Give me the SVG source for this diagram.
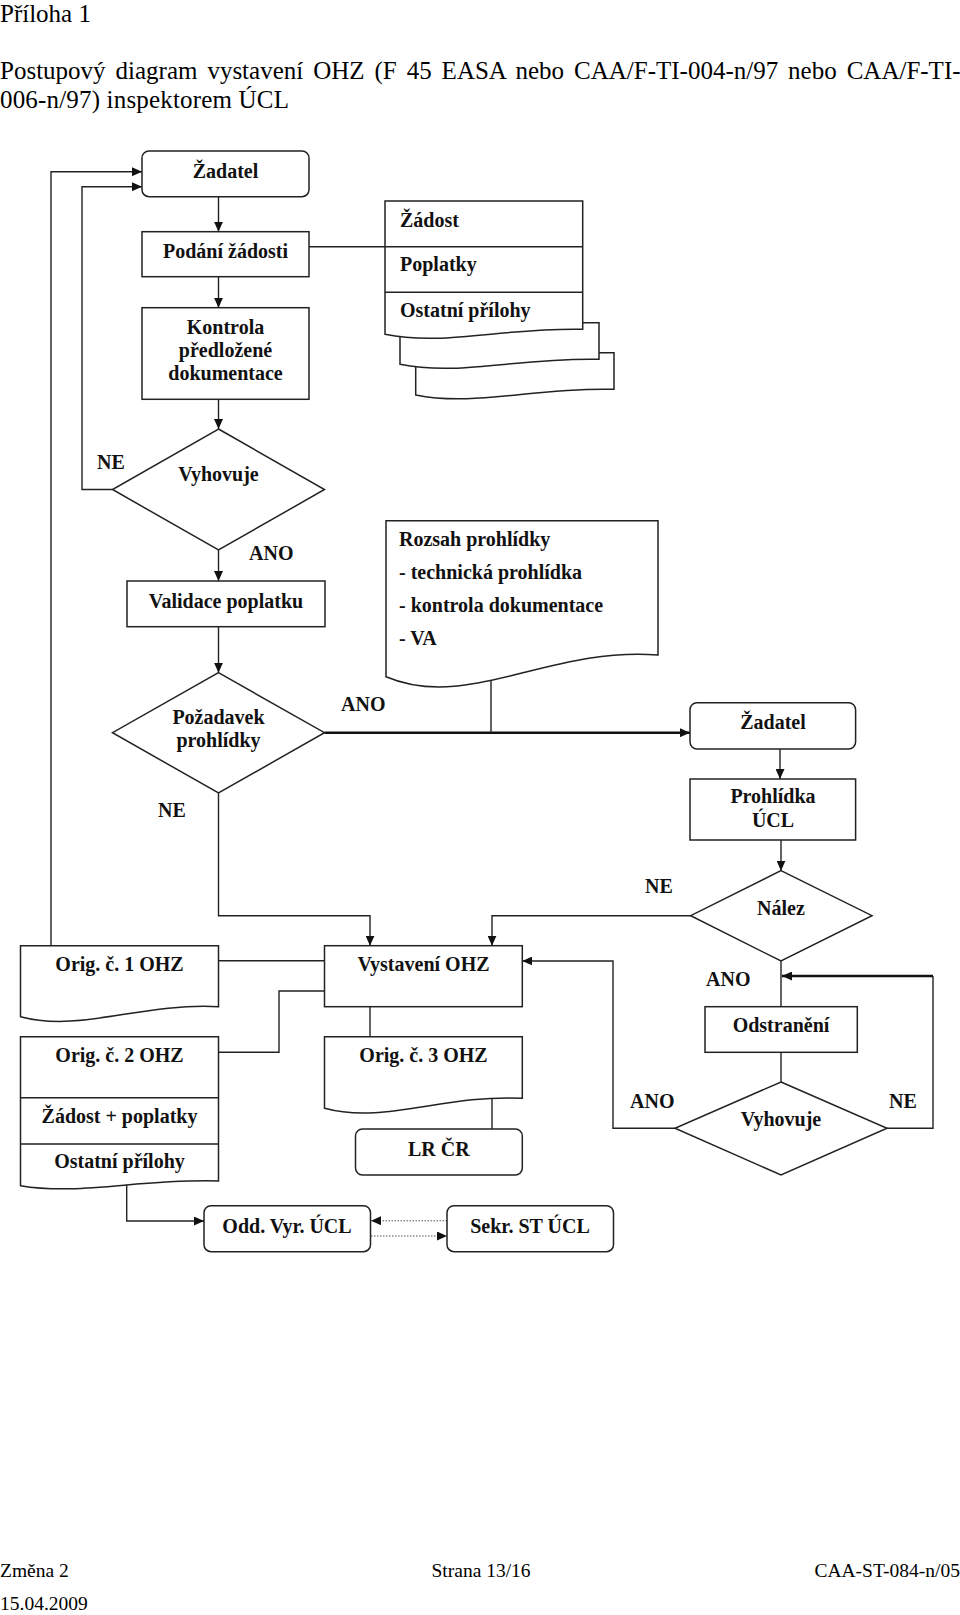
<svg xmlns="http://www.w3.org/2000/svg" width="960" height="1615" viewBox="0 0 960 1615">
<defs>
<style>
.hdr{font-family:"Liberation Serif","Times New Roman",serif;font-size:25px;fill:#000}
.ftr{font-family:"Liberation Serif","Times New Roman",serif;font-size:19.5px;fill:#000}
.t{font-family:"Liberation Serif","Times New Roman",serif;font-size:20px;font-weight:bold;fill:#111;text-anchor:middle}
.ts{font-family:"Liberation Serif","Times New Roman",serif;font-size:20px;font-weight:bold;fill:#111;text-anchor:start}
.box{fill:#fff;stroke:#222;stroke-width:1.5}
.ln{fill:none;stroke:#222;stroke-width:1.4}
.thick{fill:none;stroke:#111;stroke-width:2.6}
.dot{fill:none;stroke:#555;stroke-width:1.1;stroke-dasharray:1.5 1.5}
</style>
<marker id="arr" markerUnits="userSpaceOnUse" markerWidth="10" markerHeight="9" refX="10" refY="4.5" orient="auto">
<path d="M0,0 L10,4.5 L0,9 Z" fill="#111"/>
</marker>
</defs>
<rect width="960" height="1615" fill="#fff"/>

<g id="header">
<text class="hdr" x="0" y="21.5">Příloha 1</text>
<text class="hdr" x="0" y="79" word-spacing="3.7">Postupový diagram vystavení OHZ (F 45 EASA nebo CAA/F-TI-004-n/97 nebo CAA/F-TI-</text>
<text class="hdr" x="0" y="108" textLength="289" lengthAdjust="spacing">006-n/97) inspektorem ÚCL</text>
</g>

<g id="connectors">
<path class="ln" d="M51 945.7 V171.7 H142" marker-end="url(#arr)"/>
<path class="ln" d="M112.5 489.5 H82 V186.7 H142" marker-end="url(#arr)"/>
<path class="ln" d="M218.5 196.7 V231.7" marker-end="url(#arr)"/>
<path class="ln" d="M218.5 276.7 V307.7" marker-end="url(#arr)"/>
<path class="ln" d="M218.5 399.3 V429" marker-end="url(#arr)"/>
<path class="ln" d="M309 246.7 H386"/>
<path class="ln" d="M218.5 550 V581" marker-end="url(#arr)"/>
<path class="ln" d="M218.5 626.7 V672.7" marker-end="url(#arr)"/>
<path class="thick" d="M324.5 732.7 H690" marker-end="url(#arr)"/>
<path class="ln" d="M491 678 V732.7"/>
<path class="ln" d="M218.5 793 V915.7 H370 V945.7" marker-end="url(#arr)"/>
<path class="ln" d="M780 749 V779" marker-end="url(#arr)"/>
<path class="ln" d="M781 840 V870.7" marker-end="url(#arr)"/>
<path class="ln" d="M690.7 915.7 H492 V945.7" marker-end="url(#arr)"/>
<path class="ln" d="M218.5 960.7 H324.5"/>
<path class="ln" d="M218.5 1052.3 H279 V991 H324.5"/>
<path class="ln" d="M370 1006.7 V1036.7"/>
<path class="ln" d="M492 1097 V1129"/>
<path class="ln" d="M126.7 1183 V1221 H204" marker-end="url(#arr)"/>
<path class="dot" d="M447 1220.7 H371" marker-end="url(#arr)"/>
<path class="dot" d="M371 1236 H447" marker-end="url(#arr)"/>
<path class="ln" d="M781 961 V1006.7"/>
<path class="ln" d="M781 1052.3 V1082"/>
<path class="ln" d="M887 1128.3 H933 V976"/>
<path class="thick" d="M933 976 H782" marker-end="url(#arr)"/>
<path class="ln" d="M675 1128.3 H613 V961 H522.3" marker-end="url(#arr)"/>
</g>

<g id="zadatel1">
<rect class="box" x="142" y="151" width="167" height="45.7" rx="7"/>
<text class="t" x="225.5" y="178">Žadatel</text>
</g>
<g id="podani">
<rect class="box" x="142" y="231.7" width="167" height="45"/>
<text class="t" x="225.5" y="258">Podání žádosti</text>
</g>
<g id="kontrola">
<rect class="box" x="142" y="307.7" width="167" height="91.6"/>
<text class="t" x="225.5" y="334">Kontrola</text>
<text class="t" x="225.5" y="357">předložené</text>
<text class="t" x="225.5" y="380">dokumentace</text>
</g>
<g id="stack">
<path class="box" d="M415.7 352.7 H614 V389.3 C534.7 387, 475.2 407, 415.7 395 Z"/>
<path class="box" d="M400 322.7 H599 V359.3 C519.4 357.3, 459.7 376.3, 400 364.3 Z"/>
<path class="box" d="M385 201 H582.7 V329.3 C503.6 327.3, 444.3 346.3, 385 334.3 Z"/>
<path class="ln" d="M385 246.7 H582.7 M385 292.3 H582.7"/>
<text class="ts" x="400" y="227">Žádost</text>
<text class="ts" x="400" y="271">Poplatky</text>
<text class="ts" x="400" y="317">Ostatní přílohy</text>
</g>
<g id="vyhovuje1">
<polygon class="box" points="218.5,429 324.5,489.5 218.5,550 112.5,489.5"/>
<text class="t" x="218.5" y="481">Vyhovuje</text>
</g>
<g id="validace">
<rect class="box" x="127" y="581" width="198" height="45.7"/>
<text class="t" x="226" y="608">Validace poplatku</text>
</g>
<g id="rozsah">
<path class="box" d="M386 520.7 H658 V655 C549.2 646.3, 467.6 711.4, 386 676.7 Z"/>
<text class="ts" x="399" y="546">Rozsah prohlídky</text>
<text class="ts" x="399" y="579">- technická prohlídka</text>
<text class="ts" x="399" y="612">- kontrola dokumentace</text>
<text class="ts" x="399" y="645">- VA</text>
</g>
<g id="pozadavek">
<polygon class="box" points="218.5,672.7 324.5,732.7 218.5,793 112.5,732.7"/>
<text class="t" x="218.5" y="724">Požadavek</text>
<text class="t" x="218.5" y="747">prohlídky</text>
</g>
<g id="zadatel2">
<rect class="box" x="690" y="702.7" width="165.6" height="46.3" rx="7"/>
<text class="t" x="773" y="729">Žadatel</text>
</g>
<g id="prohlidka">
<rect class="box" x="690" y="779" width="165.6" height="61"/>
<text class="t" x="773" y="803">Prohlídka</text>
<text class="t" x="773" y="827">ÚCL</text>
</g>
<g id="nalez">
<polygon class="box" points="781,870.7 872,915.7 781,961 690.7,915.7"/>
<text class="t" x="781" y="915">Nález</text>
</g>
<g id="orig1">
<path class="box" d="M20.5 945.7 H218.5 V1006.7 C139.3 1002.7, 79.9 1032.7, 20.5 1016.7 Z"/>
<text class="t" x="119.5" y="971">Orig. č. 1 OHZ</text>
</g>
<g id="vystaveni">
<rect class="box" x="324.5" y="945.7" width="197.8" height="61"/>
<text class="t" x="423.5" y="971">Vystavení OHZ</text>
</g>
<g id="odstraneni">
<rect class="box" x="705" y="1006.7" width="152.3" height="45.6"/>
<text class="t" x="781" y="1032">Odstranění</text>
</g>
<g id="orig2">
<path class="box" d="M20.5 1036.7 H218.5 V1181 C139.3 1178.7, 79.9 1195.7, 20.5 1185.7 Z"/>
<path class="ln" d="M20.5 1097.7 H218.5 M20.5 1144 H218.5"/>
<text class="t" x="119.5" y="1061.5">Orig. č. 2 OHZ</text>
<text class="t" x="119.5" y="1122.5">Žádost + poplatky</text>
<text class="t" x="119.5" y="1168">Ostatní přílohy</text>
</g>
<g id="orig3">
<path class="box" d="M324.5 1036.7 H522.3 V1098.3 C443.2 1094.3, 383.8 1124.3, 324.5 1108.3 Z"/>
<text class="t" x="423.5" y="1061.5">Orig. č. 3 OHZ</text>
</g>
<g id="vyhovuje2">
<polygon class="box" points="781,1082 887,1128.3 781,1175 675,1128.3"/>
<text class="t" x="781" y="1126">Vyhovuje</text>
</g>
<g id="lrcr">
<rect class="box" x="355.5" y="1129" width="166.8" height="46" rx="7"/>
<text class="t" x="438.8" y="1156">LR ČR</text>
</g>
<g id="oddvyr">
<rect class="box" x="204" y="1205.7" width="166.5" height="46" rx="7"/>
<text class="t" x="287" y="1233">Odd. Vyr. ÚCL</text>
</g>
<g id="sekr">
<rect class="box" x="447" y="1205.7" width="166.5" height="46" rx="7"/>
<text class="t" x="530" y="1233">Sekr. ST ÚCL</text>
</g>

<g id="labels">
<text class="ts" x="97" y="469">NE</text>
<text class="ts" x="249" y="560">ANO</text>
<text class="ts" x="341" y="711">ANO</text>
<text class="ts" x="158" y="817">NE</text>
<text class="ts" x="645" y="893">NE</text>
<text class="ts" x="706" y="986">ANO</text>
<text class="ts" x="630" y="1107.5">ANO</text>
<text class="ts" x="889" y="1107.5">NE</text>
</g>

<g id="footer">
<text class="ftr" x="0" y="1577">Změna 2</text>
<text class="ftr" x="431.5" y="1577">Strana 13/16</text>
<text class="ftr" x="960" y="1577" text-anchor="end">CAA-ST-084-n/05</text>
<text class="ftr" x="0" y="1610">15.04.2009</text>
</g>
</svg>
